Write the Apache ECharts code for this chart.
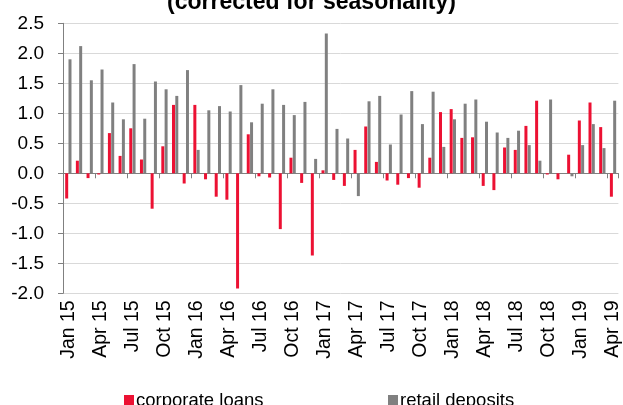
<!DOCTYPE html>
<html>
<head>
<meta charset="utf-8">
<script src="https://cdn.jsdelivr.net/npm/echarts@6/dist/echarts.min.js"></script>
<style>
  html, body { margin: 0; padding: 0; background: #fff; }
  #chart { width: 623px; height: 405px; }
</style>
</head>
<body>
<div id="chart"></div>
<script>
// monthly categories Jan 15 .. Apr 19
const months = ['Jan', 'Feb', 'Mar', 'Apr', 'May', 'Jun', 'Jul', 'Aug', 'Sep', 'Oct', 'Nov', 'Dec'];
const categories = [];
for (let y = 15; y <= 19; y++) {
  for (let m = 0; m < 12; m++) {
    if (y === 19 && m > 3) break;
    categories.push(months[m] + ' ' + y);
  }
}

const corporateLoans = [
  -0.42, 0.21, -0.08, -0.02, 0.67, 0.29, 0.75, 0.23, -0.59, 0.45, 1.14, -0.17,
  1.14, -0.10, -0.39, -0.44, -1.92, 0.65, -0.05, -0.07, -0.93, 0.26, -0.16, -1.37,
  0.05, -0.11, -0.21, 0.39, 0.78, 0.19, -0.12, -0.19, -0.08, -0.24, 0.26, 1.02,
  1.07, 0.59, 0.60, -0.21, -0.28, 0.43, 0.39, 0.79, 1.21, -0.02, -0.10, 0.31,
  0.88, 1.18, 0.77, -0.39
];

const retailDeposits = [
  1.90, 2.12, 1.55, 1.73, 1.18, 0.90, 1.82, 0.91, 1.53, 1.40, 1.29, 1.72,
  0.39, 1.05, 1.12, 1.03, 1.47, 0.85, 1.16, 1.40, 1.14, 0.97, 1.19, 0.24,
  2.33, 0.74, 0.58, -0.38, 1.20, 1.29, 0.48, 0.98, 1.37, 0.82, 1.36, 0.44,
  0.90, 1.16, 1.23, 0.86, 0.68, 0.59, 0.71, 0.47, 0.21, 1.23, 0.00, -0.05,
  0.47, 0.82, 0.42, 1.21
];

const RED = '#ec1133';
const GREY = '#808080';
const FONT = 'Liberation Sans, Arial, sans-serif';

const chart = echarts.init(document.getElementById('chart'), null, { renderer: 'canvas' });

const legendStyle = { fontFamily: FONT, fontSize: 18.5, color: '#000', padding: [0, 0, 0, -3] };

const option = {
  animation: false,
  backgroundColor: '#fff',
  title: {
    text: '(corrected for seasonality)',
    left: 'center',
    top: -14,
    textStyle: { fontFamily: FONT, fontSize: 23, fontWeight: 'bold', color: '#000' }
  },
  legend: [
    {
      data: ['corporate loans'],
      left: 119, top: 386,
      itemWidth: 10, itemHeight: 11,
      icon: 'rect',
      textStyle: legendStyle
    },
    {
      data: ['retail deposits'],
      left: 383, top: 386,
      itemWidth: 10, itemHeight: 11,
      icon: 'rect',
      textStyle: legendStyle
    }
  ],
  grid: { left: 63, right: 2, top: 23.3, bottom: 111.7, containLabel: false },
  xAxis: [
    {
      type: 'category',
      data: categories,
      boundaryGap: true,
      axisLine: { show: false, onZero: false },
      axisTick: { show: false },
      axisLabel: {
        interval: 2,
        rotate: 90,
        margin: 7,
        fontFamily: FONT,
        fontSize: 19.5,
        color: '#000'
      }
    },
    {
      type: 'category',
      data: categories,
      position: 'bottom',
      boundaryGap: true,
      axisLine: { show: true, onZero: true, lineStyle: { color: GREY, width: 1 } },
      axisTick: { show: true, interval: 2, length: 5, lineStyle: { color: GREY } },
      axisLabel: { show: false }
    }
  ],
  yAxis: {
    type: 'value',
    min: -2,
    max: 2.5,
    interval: 0.5,
    axisLine: { show: true, lineStyle: { color: GREY, width: 1 } },
    axisTick: { show: true, length: 5, lineStyle: { color: GREY } },
    splitLine: { show: true, lineStyle: { color: '#d9d9d9', width: 1 } },
    axisLabel: {
      margin: 19,
      fontFamily: FONT,
      fontSize: 19,
      color: '#000',
      formatter: v => v.toFixed(1)
    }
  },
  series: [
    {
      name: 'corporate loans',
      type: 'bar',
      xAxisIndex: 0,
      data: corporateLoans,
      barWidth: 3,
      barGap: '10%',
      itemStyle: { color: RED }
    },
    {
      name: 'retail deposits',
      type: 'bar',
      xAxisIndex: 0,
      data: retailDeposits,
      barWidth: 3,
      barGap: '10%',
      itemStyle: { color: GREY }
    }
  ]
};

chart.setOption(option);
</script>
</body>
</html>
